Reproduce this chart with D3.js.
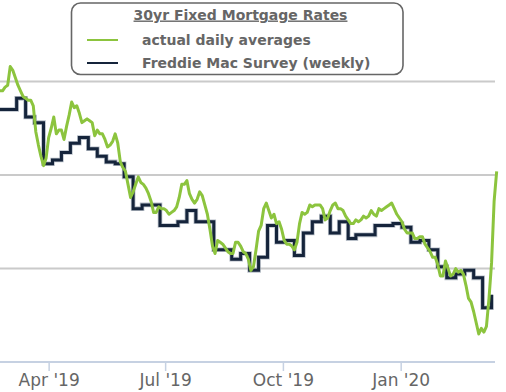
<!DOCTYPE html>
<html>
<head>
<meta charset="utf-8">
<script src="https://cdn.jsdelivr.net/npm/d3@7"></script>
<style>
  html, body { margin: 0; padding: 0; background: #fff; }
  svg { display: block; }
</style>
</head>
<body>
<svg id="chart" width="506" height="392"></svg>
<script>
// ---------------- DATA ----------------
const dailyDates = [
"2019-02-22","2019-02-24","2019-02-26","2019-02-28",
"2019-03-02","2019-03-04","2019-03-06","2019-03-08","2019-03-10","2019-03-12","2019-03-14","2019-03-16","2019-03-18","2019-03-20","2019-03-22","2019-03-24","2019-03-26","2019-03-28","2019-03-30",
"2019-04-01","2019-04-03","2019-04-05","2019-04-07","2019-04-09","2019-04-11","2019-04-13","2019-04-15","2019-04-17","2019-04-19","2019-04-21","2019-04-23","2019-04-25","2019-04-27","2019-04-29",
"2019-05-01","2019-05-03","2019-05-05","2019-05-07","2019-05-09","2019-05-11","2019-05-13","2019-05-15","2019-05-17","2019-05-19","2019-05-21","2019-05-23","2019-05-25","2019-05-27","2019-05-29","2019-05-31",
"2019-06-02","2019-06-04","2019-06-06","2019-06-08","2019-06-10","2019-06-12","2019-06-14","2019-06-16","2019-06-18","2019-06-20","2019-06-22","2019-06-24","2019-06-26","2019-06-28","2019-06-30",
"2019-07-02","2019-07-04","2019-07-06","2019-07-08","2019-07-10","2019-07-12","2019-07-14","2019-07-16","2019-07-18","2019-07-20","2019-07-22","2019-07-24","2019-07-26","2019-07-28","2019-07-30",
"2019-08-01","2019-08-03","2019-08-05","2019-08-07","2019-08-09","2019-08-11","2019-08-13","2019-08-15","2019-08-17","2019-08-19","2019-08-21","2019-08-23","2019-08-25","2019-08-27","2019-08-29","2019-08-31",
"2019-09-02","2019-09-04","2019-09-06","2019-09-08","2019-09-10","2019-09-12","2019-09-14","2019-09-16","2019-09-18","2019-09-20","2019-09-22","2019-09-24","2019-09-26","2019-09-28","2019-09-30",
"2019-10-02","2019-10-04","2019-10-06","2019-10-08","2019-10-10","2019-10-12","2019-10-14","2019-10-16","2019-10-18","2019-10-20","2019-10-22","2019-10-24","2019-10-26","2019-10-28","2019-10-30",
"2019-11-01","2019-11-03","2019-11-05","2019-11-07","2019-11-09","2019-11-11","2019-11-13","2019-11-15","2019-11-17","2019-11-19","2019-11-21","2019-11-23","2019-11-25","2019-11-27","2019-11-29",
"2019-12-01","2019-12-03","2019-12-05","2019-12-07","2019-12-09","2019-12-11","2019-12-13","2019-12-15","2019-12-17","2019-12-19","2019-12-21","2019-12-23","2019-12-25","2019-12-27","2019-12-29","2019-12-31",
"2020-01-02","2020-01-04","2020-01-06","2020-01-08","2020-01-10","2020-01-12","2020-01-14","2020-01-16","2020-01-18","2020-01-20","2020-01-22","2020-01-24","2020-01-26","2020-01-28","2020-01-30",
"2020-02-01","2020-02-03","2020-02-05","2020-02-07","2020-02-09","2020-02-11","2020-02-13","2020-02-15","2020-02-17","2020-02-19","2020-02-21","2020-02-23","2020-02-25","2020-02-27","2020-02-29",
"2020-03-02","2020-03-04","2020-03-06","2020-03-08","2020-03-10","2020-03-12","2020-03-14","2020-03-16"
];
const dailyValues = [
4.45,4.45,4.47,4.48,
4.58,4.56,4.52,4.48,4.45,4.42,4.41,4.40,4.40,4.37,4.23,4.16,4.10,4.05,4.09,
4.20,4.25,4.31,4.22,4.24,4.24,4.19,4.26,4.32,4.39,4.36,4.37,4.33,4.28,4.29,
4.30,4.29,4.28,4.21,4.24,4.22,4.22,4.19,4.15,4.16,4.18,4.22,4.17,4.07,4.04,4.02,
3.95,3.88,3.91,3.95,3.99,3.96,3.95,3.93,3.90,3.86,3.80,3.80,3.83,3.82,3.82,
3.81,3.79,3.80,3.81,3.83,3.88,3.95,3.95,3.97,3.90,3.87,3.85,3.87,3.91,3.89,
3.84,3.79,3.71,3.62,3.58,3.65,3.64,3.63,3.61,3.59,3.58,3.58,3.64,3.64,3.62,3.59,
3.58,3.55,3.49,3.51,3.60,3.70,3.73,3.82,3.85,3.81,3.77,3.79,3.74,3.75,3.71,
3.65,3.63,3.63,3.62,3.60,3.64,3.74,3.80,3.79,3.80,3.84,3.83,3.84,3.84,3.84,
3.82,3.76,3.77,3.81,3.84,3.85,3.82,3.82,3.81,3.78,3.76,3.74,3.74,3.76,3.75,
3.76,3.78,3.77,3.78,3.81,3.79,3.78,3.82,3.81,3.82,3.83,3.84,3.85,3.82,3.79,3.77,
3.75,3.71,3.69,3.69,3.69,3.66,3.66,3.67,3.67,3.63,3.61,3.59,3.56,3.56,3.52,
3.46,3.46,3.54,3.50,3.46,3.47,3.50,3.48,3.49,3.47,3.41,3.34,3.32,3.27,3.21,
3.15,3.18,3.16,3.19,3.34,3.53,3.86,4.02
];

const weeklyDates = [
"2019-02-21","2019-02-28","2019-03-07","2019-03-14","2019-03-21","2019-03-28",
"2019-04-04","2019-04-11","2019-04-18","2019-04-25","2019-05-02","2019-05-09","2019-05-16","2019-05-23","2019-05-30",
"2019-06-06","2019-06-13","2019-06-20","2019-06-27","2019-07-11","2019-07-18","2019-07-25",
"2019-08-01","2019-08-08","2019-08-15","2019-08-22","2019-08-29","2019-09-05","2019-09-12","2019-09-19","2019-09-26",
"2019-10-03","2019-10-10","2019-10-17","2019-10-24","2019-10-31","2019-11-07","2019-11-14","2019-11-21","2019-11-27",
"2019-12-05","2019-12-12","2019-12-19","2019-12-26","2020-01-02","2020-01-09","2020-01-16","2020-01-23","2020-01-30",
"2020-02-06","2020-02-13","2020-02-20","2020-02-27","2020-03-05","2020-03-12"
];
const weeklyValues = [
4.35,4.35,4.41,4.31,4.28,4.06,
4.08,4.12,4.17,4.20,4.14,4.10,4.07,4.06,3.99,
3.82,3.84,3.84,3.73,3.75,3.81,3.75,
3.75,3.60,3.60,3.55,3.58,3.49,3.56,3.73,3.64,
3.65,3.57,3.69,3.75,3.78,3.69,3.75,3.66,3.68,
3.68,3.73,3.73,3.74,3.72,3.64,3.65,3.60,3.51,
3.45,3.47,3.49,3.45,3.29,3.36
];

const tickDates = ["2019-04-01","2019-07-01","2019-10-01","2020-01-01"];
const tickLabels = ["Apr '19","Jul '19","Oct '19","Jan '20"];
const gridValues = [3.5, 4.0, 4.5];
const legendTitle = "30yr Fixed Mortgage Rates";
const seriesNames = ["actual daily averages", "Freddie Mac Survey (weekly)"];

// ---------------- CHART ----------------
const parse = d3.utcParse("%Y-%m-%d");
const W = 506, H = 392;
const svg = d3.select("#chart");
svg.append("rect").attr("width", W).attr("height", H).attr("fill", "#fff");

const x = d3.scaleUtc()
  .domain([parse("2019-02-22"), parse("2020-03-15")])
  .range([0, 495.4]);
const y = d3.scaleLinear().domain([3.0, 4.5]).range([362, 81.5]);

const GREEN = "#8cc43e", NAVY = "#15243b";

// grid lines
svg.append("g").selectAll("line").data(gridValues).join("line")
  .attr("x1", 0).attr("x2", 495)
  .attr("y1", d => y(d)).attr("y2", d => y(d))
  .attr("stroke", "#cacaca").attr("stroke-width", 2);

// x axis
const axis = d3.axisBottom(x)
  .tickValues(tickDates.map(parse))
  .tickFormat((d, i) => tickLabels[i])
  .tickSizeInner(9).tickSizeOuter(0).tickPadding(6);
const gx = svg.append("g").attr("transform", `translate(0,${y(3.0)})`).call(axis);
gx.select(".domain").attr("stroke", "#c6d1e2").attr("stroke-width", 2).attr("d", "M0,0H495");
gx.selectAll(".tick line").attr("stroke", "#c6d1e2").attr("stroke-width", 1.5);
gx.selectAll(".tick text")
  .attr("fill", "#666").attr("font-family", "'DejaVu Sans', Verdana, sans-serif")
  .attr("font-size", 17).attr("y", 24).attr("dy", 0);

// weekly step line
const weekly = weeklyDates.map((d, i) => ({ date: parse(d), value: weeklyValues[i] }));
const stepLine = d3.line().x(d => x(d.date)).y(d => y(d.value)).curve(d3.curveStepAfter);
svg.append("path").datum(weekly).attr("d", stepLine)
  .attr("fill", "none").attr("stroke", "#9aa4b1").attr("stroke-width", 4.6)
  .attr("stroke-linejoin", "miter").attr("opacity", 0.7);
svg.append("path").datum(weekly).attr("d", stepLine)
  .attr("fill", "none").attr("stroke", NAVY).attr("stroke-width", 3)
  .attr("stroke-linejoin", "miter");

// daily line
const daily = dailyDates.map((d, i) => ({ date: parse(d), value: dailyValues[i] }));
const line = d3.line().x(d => x(d.date)).y(d => y(d.value));
svg.append("path").datum(daily).attr("d", line)
  .attr("fill", "none").attr("stroke", GREEN).attr("stroke-width", 3)
  .attr("stroke-linejoin", "round");

// legend
const lg = svg.append("g");
lg.append("rect").attr("x", 71.5).attr("y", 3).attr("width", 331.5).attr("height", 71.5)
  .attr("rx", 9).attr("fill", "#fff").attr("stroke", "#666").attr("stroke-width", 1.6);
const font = "'DejaVu Sans', Verdana, sans-serif";
lg.append("text").attr("x", 240.5).attr("y", 19.5).attr("text-anchor", "middle")
  .attr("font-family", font).attr("font-weight", "bold").attr("font-size", 14)
  .attr("fill", "#666").attr("text-decoration", "underline").text(legendTitle);
const rows = [{ name: seriesNames[0], color: GREEN, y: 40 }, { name: seriesNames[1], color: NAVY, y: 63 }];
rows.forEach(r => {
  lg.append("line").attr("x1", 87).attr("x2", 118).attr("y1", r.y).attr("y2", r.y)
    .attr("stroke", r.color).attr("stroke-width", 2);
  lg.append("text").attr("x", 142).attr("y", r.y + 4.8)
    .attr("font-family", font).attr("font-weight", "bold").attr("font-size", 14)
    .attr("fill", "#666").text(r.name);
});
</script>
</body>
</html>
